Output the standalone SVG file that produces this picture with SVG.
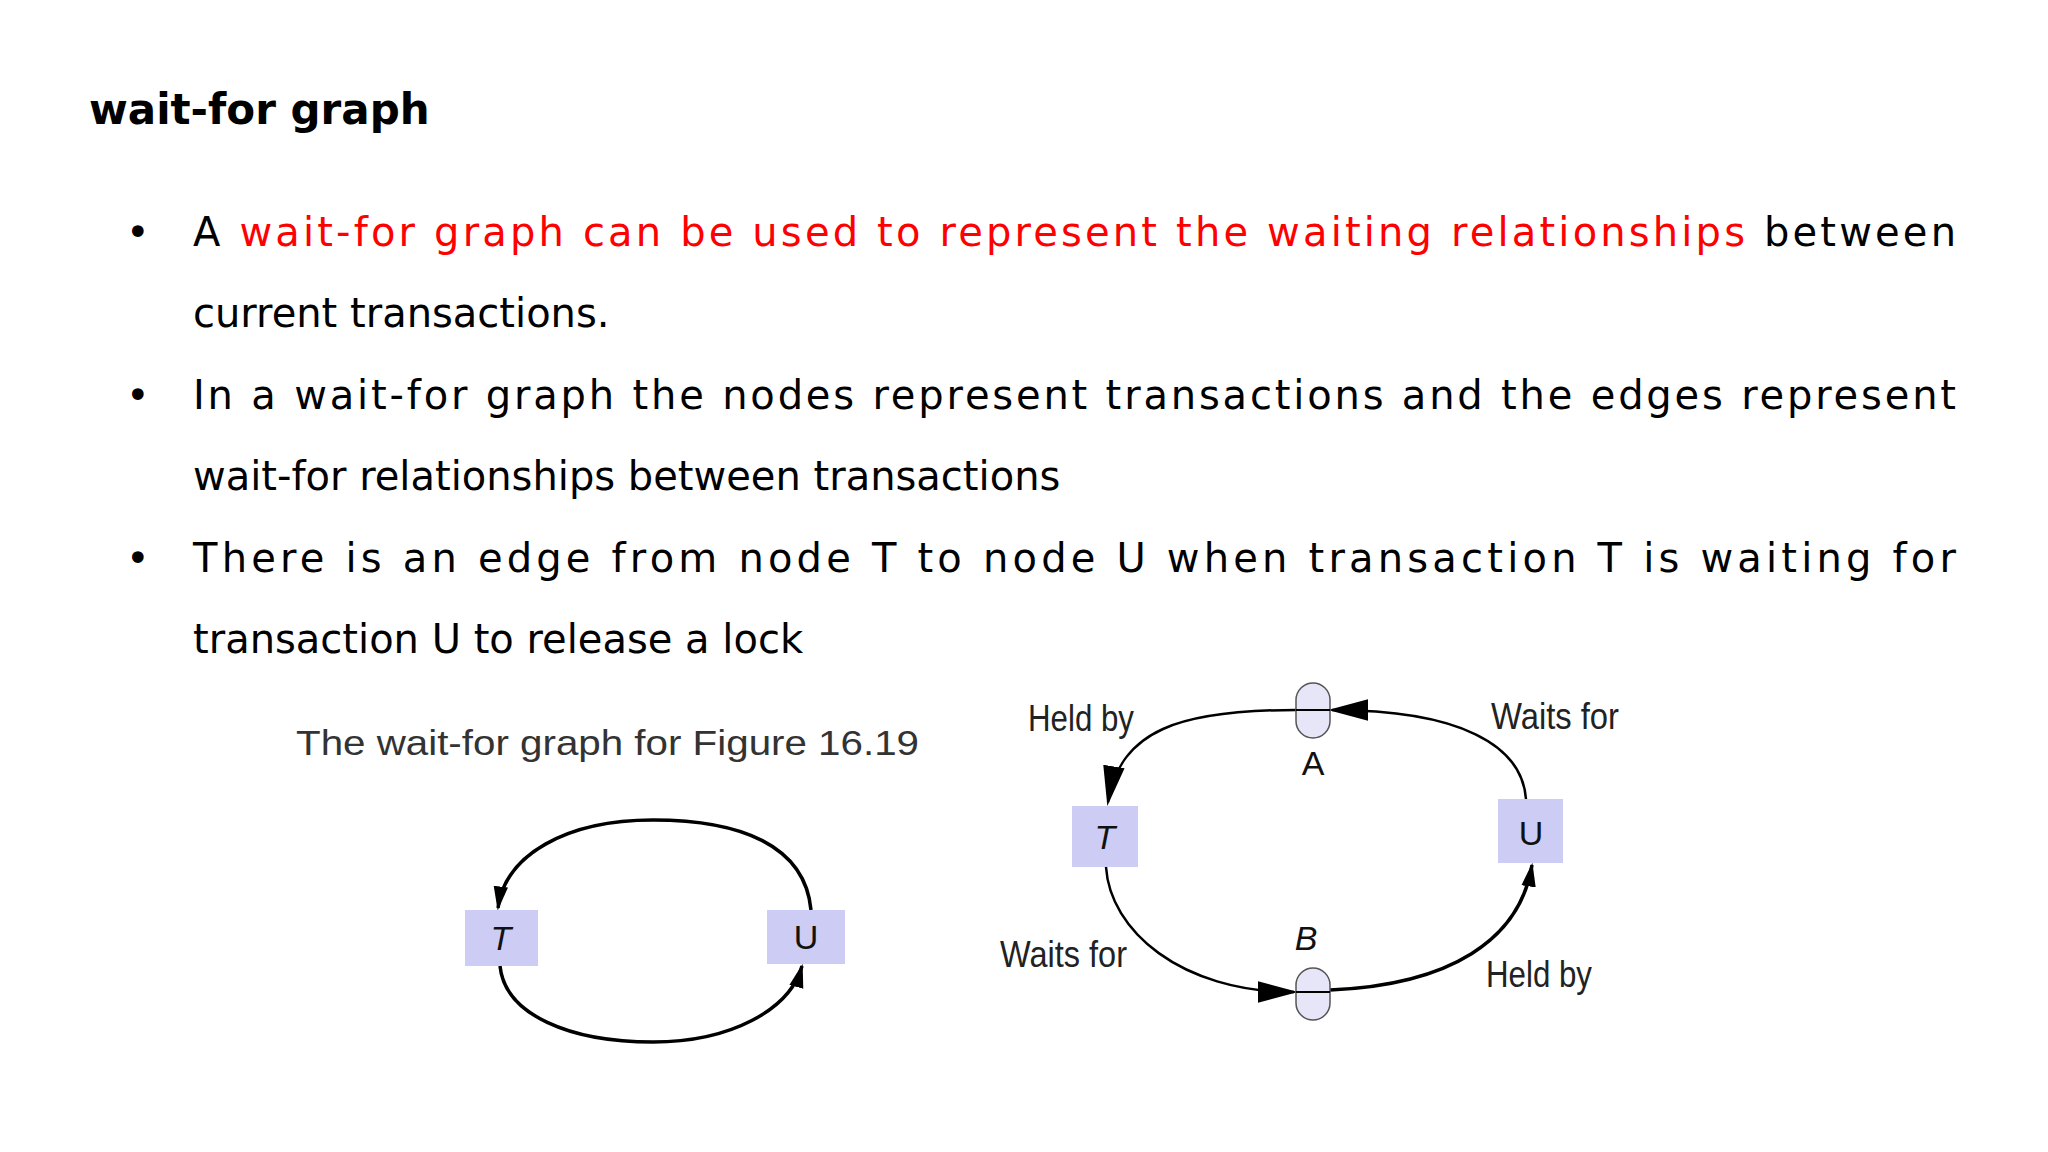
<svg xmlns="http://www.w3.org/2000/svg" width="2048" height="1152" viewBox="0 0 2048 1152">
<style>
.body{font-family:"DejaVu Sans","Noto Sans",sans-serif;font-size:40px;fill:#000}
.red{fill:#ff0000}
.cap{font-family:"Liberation Sans",Arial,sans-serif;font-size:35px;fill:#333}
.lbl{font-family:"Liberation Sans Narrow","Liberation Sans",Arial,sans-serif;font-size:36px;fill:#222}
.nt{font-family:"Liberation Sans",Arial,sans-serif;font-size:34px;fill:#111;text-anchor:middle}
.box{fill:#ccccf5}
.pill{fill:#e6e6f8;stroke:#555;stroke-width:1.5}
.e{fill:none;stroke:#000;stroke-width:3.5}
</style>
<defs>
<marker id="ah" viewBox="0 0 10 10" refX="9" refY="5" markerWidth="24" markerHeight="24" markerUnits="userSpaceOnUse" orient="auto"><path d="M0,2L10,5L0,8z" fill="#000"/></marker>
<marker id="ahb" viewBox="0 0 10 10" refX="9" refY="5" markerWidth="40" markerHeight="40" markerUnits="userSpaceOnUse" orient="auto"><path d="M0,2.3L10,5L0,7.7z" fill="#000"/></marker>
</defs>
<rect width="2048" height="1152" fill="#fff"/>
<text x="89" y="124" style="font-family:'DejaVu Sans',sans-serif;font-size:42px;font-weight:bold">wait-for graph</text>
<g class="body">
<text x="126" y="246">•</text>
<text x="193" y="246" textLength="1763" lengthAdjust="spacing">A <tspan class="red">wait-for graph can be used to represent the waiting relationships</tspan> between</text>
<text x="193" y="327">current transactions.</text>
<text x="126" y="409">•</text>
<text x="193" y="409" textLength="1763" lengthAdjust="spacing">In a wait-for graph the nodes represent transactions and the edges represent</text>
<text x="193" y="490">wait-for relationships between transactions</text>
<text x="126" y="572">•</text>
<text x="193" y="572" textLength="1763" lengthAdjust="spacing">There is an edge from node T to node U when transaction T is waiting for</text>
<text x="193" y="653">transaction U to release a lock</text>
</g>
<text class="cap" x="296" y="755" textLength="623" lengthAdjust="spacingAndGlyphs">The wait-for graph for Figure 16.19</text>
<g id="connectors">
<path class="e" d="M811,910 C805,845 740,820 653,820 C566,820 505,855 498,908" marker-end="url(#ah)"/>
<path class="e" d="M500,966 C505,1015 570,1042 653,1042 C730,1042 790,1010 802,966" marker-end="url(#ah)"/>
<path class="e" style="stroke-width:2.5" d="M1296,710 C1180,710 1120,730 1108,802" marker-end="url(#ahb)"/>
<path class="e" style="stroke-width:2.5" d="M1526,799 C1522,745 1460,710 1332,710" marker-end="url(#ahb)"/>
<path class="e" style="stroke-width:2.5" d="M1106,867 C1110,930 1180,992 1294,992" marker-end="url(#ahb)"/>
<path class="e" d="M1330,990 C1450,985 1520,940 1532,865" marker-end="url(#ah)"/>
</g>
<g id="lT"><rect class="box" x="465" y="910" width="73" height="56"/><text class="nt" x="501" y="950" font-style="italic">T</text></g>
<g id="lU"><rect class="box" x="767" y="910" width="78" height="54"/><text class="nt" x="806" y="949">U</text></g>
<g id="rT"><rect class="box" x="1072" y="806" width="66" height="61"/><text class="nt" x="1105" y="849" font-style="italic">T</text></g>
<g id="rU"><rect class="box" x="1498" y="799" width="65" height="64"/><text class="nt" x="1531" y="845">U</text></g>
<g id="A"><rect class="pill" x="1296" y="683" width="34" height="55" rx="17"/><line x1="1296" y1="710" x2="1330" y2="710" stroke="#000" stroke-width="2"/><text class="nt" x="1313" y="775">A</text></g>
<g id="B"><rect class="pill" x="1296" y="968" width="34" height="52" rx="17"/><line x1="1296" y1="992" x2="1330" y2="992" stroke="#000" stroke-width="2"/><text class="nt" x="1306" y="950" font-style="italic">B</text></g>
<g id="labels">
<text class="lbl" x="1028" y="731" textLength="106" lengthAdjust="spacingAndGlyphs">Held by</text>
<text class="lbl" x="1491" y="729" textLength="128" lengthAdjust="spacingAndGlyphs">Waits for</text>
<text class="lbl" x="1000" y="967" textLength="127" lengthAdjust="spacingAndGlyphs">Waits for</text>
<text class="lbl" x="1486" y="987" textLength="106" lengthAdjust="spacingAndGlyphs">Held by</text>
</g>
</svg>
